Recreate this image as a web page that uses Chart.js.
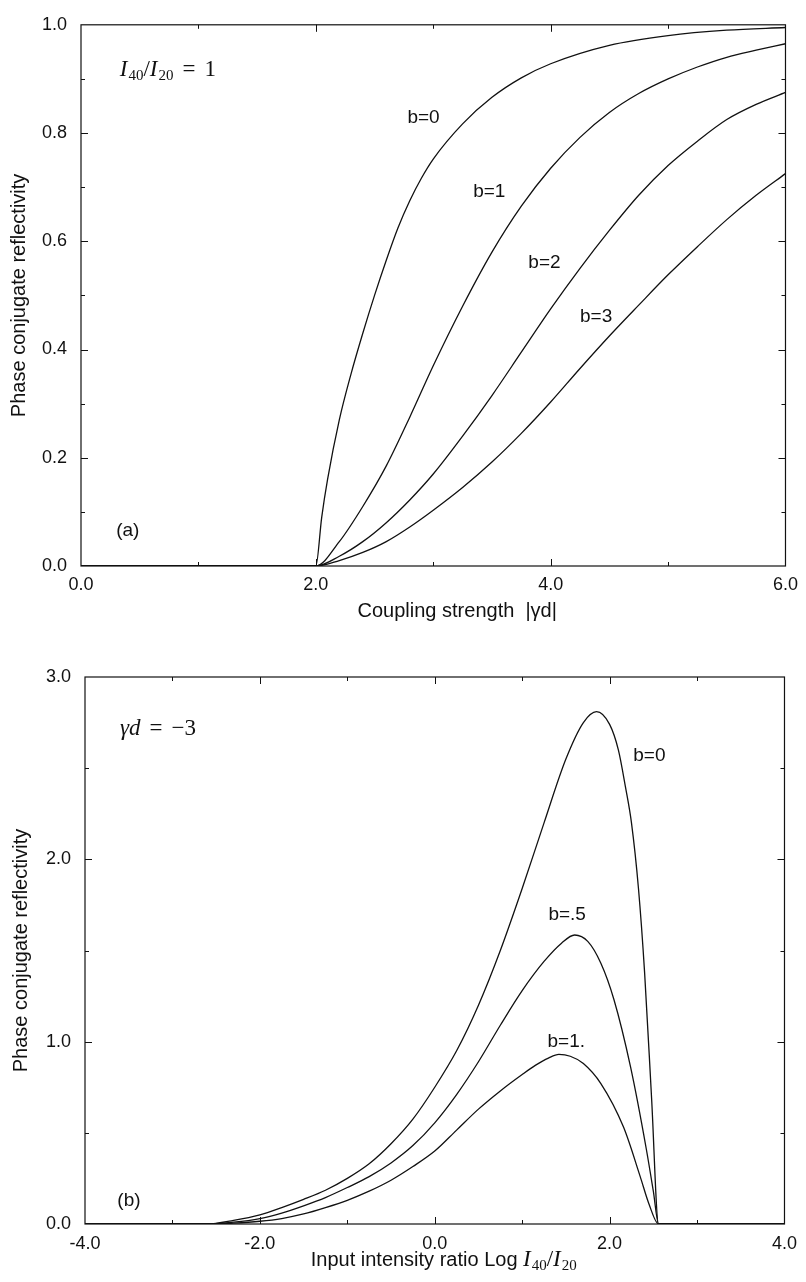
<!DOCTYPE html>
<html><head><meta charset="utf-8">
<script src="https://cdn.jsdelivr.net/npm/chart.js@4.4.1/dist/chart.umd.min.js"></script>
<style>
html,body{margin:0;padding:0;background:#fff;}
#wrap{position:relative;width:806px;height:1282px;background:#fff;}
.box{position:absolute;left:0;width:806px;}
</style></head><body>
<div id="wrap">
<div class="box" style="top:0;height:630px"><canvas id="c1" width="806" height="630"></canvas></div>
<div class="box" style="top:630px;height:652px"><canvas id="c2" width="806" height="652"></canvas></div>
</div>
<script>
// ---------- DATA : panel (a) ----------
const topX  = [0, 2.0, 2.05, 2.1, 2.2, 2.3, 2.4, 2.5, 2.6, 2.7, 2.8, 2.9, 3.0, 3.25, 3.5, 3.75, 4.0, 4.5, 5.0, 5.5, 6.0];
const topB0 = [0, 0, 0.09, 0.16, 0.27, 0.355, 0.43, 0.50, 0.565, 0.625, 0.675, 0.717, 0.752, 0.817, 0.866, 0.902, 0.928, 0.962, 0.98, 0.99, 0.995];
const topX2 = [0, 2.0, 2.2, 2.4, 2.6, 2.8, 3.0, 3.25, 3.5, 3.75, 4.0, 4.25, 4.5, 4.75, 5.0, 5.25, 5.5, 5.75, 6.0];
const topB1 = [0, 0, 0.045, 0.11, 0.185, 0.275, 0.37, 0.48, 0.58, 0.665, 0.735, 0.792, 0.838, 0.873, 0.90, 0.922, 0.94, 0.953, 0.965];
const topB2 = [0, 0, 0.018, 0.045, 0.08, 0.122, 0.17, 0.24, 0.315, 0.395, 0.475, 0.55, 0.62, 0.685, 0.74, 0.785, 0.825, 0.853, 0.875];
const topB3 = [0, 0, 0.01, 0.025, 0.045, 0.072, 0.103, 0.145, 0.192, 0.245, 0.303, 0.365, 0.425, 0.482, 0.538, 0.59, 0.64, 0.685, 0.725];
const topXTicks = [0, 2, 4, 6];
const topYTicks = [0, 0.2, 0.4, 0.6, 0.8, 1.0];

// ---------- DATA : panel (b) ----------
const botX0  = [-4, -2.6, -2.3, -2.0, -1.75, -1.5, -1.25, -1.0, -0.75, -0.5, -0.25, 0, 0.25, 0.5, 0.75, 1.0, 1.25, 1.5, 1.7, 1.85, 2.0, 2.1, 2.18, 2.25, 2.33, 2.4, 2.48, 2.56, 4];
const botB0  = [0, 0, 0.02, 0.05, 0.09, 0.135, 0.185, 0.25, 0.33, 0.44, 0.575, 0.75, 0.95, 1.2, 1.5, 1.84, 2.2, 2.55, 2.75, 2.81, 2.74, 2.6, 2.4, 2.2, 1.84, 1.38, 0.69, 0, 0];
const botX05 = [-4, -2.6, -2.3, -2.0, -1.75, -1.5, -1.25, -1.0, -0.75, -0.5, -0.25, 0, 0.25, 0.5, 0.75, 1.0, 1.25, 1.45, 1.6, 1.75, 1.9, 2.05, 2.24, 2.42, 2.5, 2.56, 4];
const botB05 = [0, 0, 0.01, 0.03, 0.06, 0.1, 0.145, 0.2, 0.26, 0.335, 0.43, 0.555, 0.71, 0.89, 1.09, 1.28, 1.44, 1.54, 1.585, 1.55, 1.43, 1.23, 0.86, 0.41, 0.18, 0, 0];
const botX1  = [-4, -2.6, -2.3, -2.0, -1.75, -1.5, -1.25, -1.0, -0.75, -0.5, -0.25, 0, 0.25, 0.5, 0.75, 1.0, 1.15, 1.3, 1.42, 1.55, 1.7, 1.9, 2.16, 2.35, 2.45, 2.56, 4];
const botB1  = [0, 0, 0.005, 0.015, 0.03, 0.055, 0.09, 0.13, 0.18, 0.24, 0.315, 0.40, 0.515, 0.63, 0.73, 0.82, 0.87, 0.91, 0.93, 0.92, 0.88, 0.77, 0.53, 0.26, 0.11, 0, 0];
const botXTicks = [-4, -2, 0, 2, 4];
const botYTicks = [0, 1, 2, 3];

// ---------- helpers ----------
const SANS = '"Liberation Sans", Arial, Helvetica, sans-serif';
const SERIF = '"Liberation Serif", "Times New Roman", serif';
const MI = 'italic 23px ' + SERIF, RM = '23px ' + SERIF, SUB = '15px ' + SERIF, LBL = '19px ' + SANS;
const TI = '20px ' + SANS;
const pts = (xs, ys) => xs.map((x, i) => ({x: x, y: ys[i]}));
const ds = (label, xs, ys) => ({label, data: pts(xs, ys), borderColor: '#111', borderWidth: 1.3,
  pointRadius: 0, fill: false, cubicInterpolationMode: 'monotone'});

function richWidth(ctx, parts) {
  let w = 0;
  for (const p of parts) { if (p.gap) { w += p.gap; continue; } ctx.font = p.f; w += ctx.measureText(p.t).width; }
  return w;
}
function drawRich(ctx, parts, x, y) {
  let cx = x;
  for (const p of parts) {
    if (p.gap) { cx += p.gap; continue; }
    ctx.font = p.f; ctx.fillText(p.t, cx, y + (p.dy || 0));
    cx += ctx.measureText(p.t).width;
  }
}
const ratioParts = [{t:'I', f:MI}, {gap:1}, {t:'40', f:SUB, dy:4}, {t:'/', f:RM}, {t:'I', f:MI}, {gap:1}, {t:'20', f:SUB, dy:4}];

const framePlugin = {
  id: 'frame',
  afterDraw(chart, args, o) {
    const {ctx, chartArea: a, scales: {x, y}} = chart;
    ctx.save();
    ctx.strokeStyle = '#111'; ctx.lineWidth = 1.2;
    ctx.strokeRect(a.left, a.top, a.right - a.left, a.bottom - a.top);
    ctx.lineWidth = 1;
    const tick = (sc, step, len, horiz) => {
      const n = Math.round((sc.max - sc.min) / step);
      for (let i = 1; i < n; i++) {
        const v = sc.min + i * step;
        const p = Math.round(sc.getPixelForValue(v)) + 0.5;
        ctx.beginPath();
        if (horiz) { ctx.moveTo(p, a.bottom); ctx.lineTo(p, a.bottom - len); ctx.moveTo(p, a.top); ctx.lineTo(p, a.top + len); }
        else { ctx.moveTo(a.left, p); ctx.lineTo(a.left + len, p); ctx.moveTo(a.right, p); ctx.lineTo(a.right - len, p); }
        ctx.stroke();
      }
    };
    tick(x, o.xMajor, 7, true); tick(x, o.xMajor / 2, 4, true);
    tick(y, o.yMajor, 7, false); tick(y, o.yMajor / 2, 4, false);
    ctx.fillStyle = '#111'; ctx.textBaseline = 'alphabetic'; ctx.textAlign = 'left';
    for (const L of o.labels) {
      const px = x.getPixelForValue(L.x), py = y.getPixelForValue(L.y);
      if (L.parts) drawRich(ctx, L.parts, px, py);
      else { ctx.font = LBL; ctx.fillText(L.t, px, py); }
    }
    if (o.xTitleParts) {
      const w = richWidth(ctx, o.xTitleParts);
      const cx = (a.left + a.right) / 2 + o.xTitleShift;
      drawRich(ctx, o.xTitleParts, cx - w / 2, chart.height - o.xTitleBase);
    }
    ctx.restore();
  }
};

function makeChart(id, datasets, cfg) {
  return new Chart(document.getElementById(id), {
    type: 'line',
    data: {datasets},
    plugins: [framePlugin],
    options: {
      responsive: false, animation: false, devicePixelRatio: 1,
      layout: {padding: cfg.padding},
      plugins: {legend: {display: false}, tooltip: {enabled: false}, frame: cfg.frame},
      scales: {
        x: {type: 'linear', min: cfg.xMin, max: cfg.xMax, offset: false,
          afterFit: s => { s.height = cfg.xH; },
          afterBuildTicks: s => { s.ticks = cfg.xTicks.map(v => ({value: v})); },
          grid: {display: false, drawTicks: false}, border: {display: false},
          ticks: {autoSkip: false, maxRotation: 0, padding: cfg.xPad, color: '#111',
            font: {family: SANS, size: 18}, callback: v => Number(v).toFixed(1)},
          title: {display: false}},
        y: {type: 'linear', min: cfg.yMin, max: cfg.yMax,
          afterFit: s => { s.width = cfg.yW; },
          afterBuildTicks: s => { s.ticks = cfg.yTicks.map(v => ({value: v})); },
          grid: {display: false, drawTicks: false}, border: {display: false},
          ticks: {autoSkip: false, padding: 14, color: '#111',
            font: {family: SANS, size: 18}, callback: v => Number(v).toFixed(1)},
          title: {display: true, text: 'Phase conjugate reflectivity', color: '#111',
            font: {family: SANS, size: 20}, padding: {top: cfg.yTitlePad, bottom: 0}}}
      }
    }
  });
}

// ---------- panel (a) ----------
makeChart('c1', [ds('b=0', topX, topB0), ds('b=1', topX2, topB1), ds('b=2', topX2, topB2), ds('b=3', topX2, topB3)], {
  padding: {left: 0, top: 15, right: 14, bottom: 0},
  xMin: 0, xMax: 6, yMin: 0, yMax: 1, xTicks: topXTicks, yTicks: topYTicks,
  xH: 64, yW: 81, xPad: 8, yTitlePad: 7,
  frame: {xMajor: 2, yMajor: 0.2, labels: [
    {x: 0.33, y: 0.906, parts: [{t:'I', f:MI}, {gap:1}, {t:'40', f:SUB, dy:4}, {t:'/', f:RM}, {t:'I', f:MI}, {gap:1}, {t:'20', f:SUB, dy:4}, {gap:9}, {t:'=', f:RM}, {gap:9}, {t:'1', f:RM}]},
    {x: 2.78, y: 0.818, t: 'b=0'},
    {x: 3.34, y: 0.682, t: 'b=1'},
    {x: 3.81, y: 0.550, t: 'b=2'},
    {x: 4.25, y: 0.450, t: 'b=3'},
    {x: 0.30, y: 0.056, t: '(a)'}
  ],
  xTitleParts: [{t:'Coupling strength  |γd|', f:TI}], xTitleShift: 24, xTitleBase: 13}
});

// ---------- panel (b) ----------
makeChart('c2', [ds('b=0', botX0, botB0), ds('b=.5', botX05, botB05), ds('b=1.', botX1, botB1)], {
  padding: {left: 0, top: 47, right: 13, bottom: 0},
  xMin: -4, xMax: 4, yMin: 0, yMax: 3, xTicks: botXTicks, yTicks: botYTicks,
  xH: 58, yW: 85, xPad: 9, yTitlePad: 9,
  frame: {xMajor: 2, yMajor: 1, labels: [
    {x: -3.60, y: 2.68, parts: [{t:'γ', f:MI}, {t:'d', f:MI}, {gap:9}, {t:'=', f:RM}, {gap:9}, {t:'−3', f:RM}]},
    {x: 2.27, y: 2.54, t: 'b=0'},
    {x: 1.30, y: 1.667, t: 'b=.5'},
    {x: 1.29, y: 0.971, t: 'b=1.'},
    {x: -3.63, y: 0.099, t: '(b)'}
  ],
  xTitleParts: [{t:'Input intensity ratio Log ', f:TI}].concat(ratioParts), xTitleShift: 9, xTitleBase: 16}
});
</script>
</body></html>
